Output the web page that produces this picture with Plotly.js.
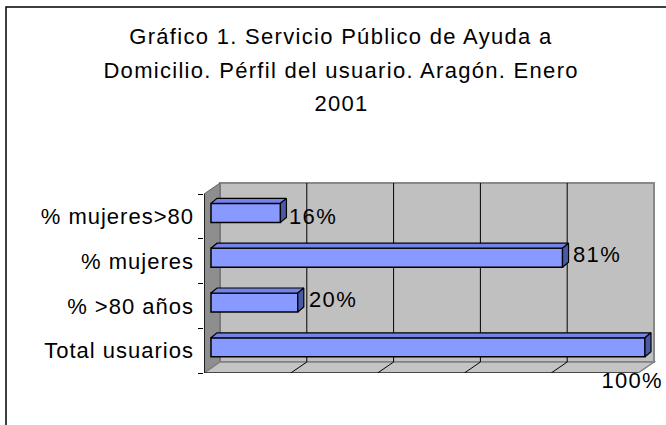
<!DOCTYPE html>
<html>
<head>
<meta charset="utf-8">
<script src="https://cdn.plot.ly/plotly-3.0.1.min.js"></script>
<style>
  html, body { margin: 0; padding: 0; background: #ffffff; }
  #chart { width: 666px; height: 425px; }
  #chart .ytick text, #chart .yaxislayer-above text { letter-spacing: 1px; }
  #chart .annotation text { letter-spacing: 1.3px; }
</style>
</head>
<body>
<div id="chart"></div>
<script>
// ---- data ----
const categories = ['Total usuarios', '% >80 años', '% mujeres', '% mujeres>80'];
const values = [1.00, 0.20, 0.81, 0.16];
const valueLabels = ['100%', '20%', '81%', '16%'];
const titleLines = ['Gráfico 1. Servicio Público de Ayuda a',
                    'Domicilio. Pérfil del usuario. Aragón. Enero',
                    '2001'];
const gridValues = [0.2, 0.4, 0.6, 0.8];

// ---- geometry (pixels) ----
const W = 666, H = 425;
const ML = 204, MR = 10, MT = 182, MB = 52;
const X0 = 211, SX = 434;      // bar plane: pixel of value 0, pixels per 1.0
const Y0 = 347.3, SY = 44.8;   // bar plane: pixel of first category centre, pixels per category
const X = px => (px - X0) / SX;
const Y = py => (Y0 - py) / SY;
const FX = 204, FB = 373, FT = 194, BAND = 44.75; // front plane
const DX = 16, DY = -11;                         // depth offset to back wall
const barHalf = 9.5 / SY, bdx = 6 / SX, bdy = 5 / SY;
const labelDx = [-41, 13, 12, 11];
const labelDy = [-33, 3, 3, -4];
const titleY = [37, 70.5, 104];
const titleX = 341;
const paperX = px => (px - ML) / (W - ML - MR);
const paperY = py => (H - MB - py) / (H - MT - MB);

const FONT = {family: 'Liberation Sans, Arial, sans-serif', size: 22, color: '#000000'};
const BAR_FRONT = '#8899FF', BAR_TOP = '#7383E6', BAR_SIDE = '#4A5AA6';

const path = pts => 'M' + pts.map(p => X(p[0]) + ',' + Y(p[1])).join(' L') + ' Z';
const line = (x0, y0, x1, y1, color, width) => ({
  type: 'line', xref: 'x', yref: 'y', layer: 'below',
  x0: X(x0), y0: Y(y0), x1: X(x1), y1: Y(y1),
  line: {color: color, width: width}
});

const shapes = [];
// chart border
shapes.push({type: 'rect', xref: 'paper', yref: 'paper', layer: 'below',
  x0: paperX(6), y0: paperY(7), x1: paperX(680), y1: paperY(440),
  line: {color: '#000000', width: 1.5}, fillcolor: 'rgba(0,0,0,0)'});
// back wall
shapes.push({type: 'path', xref: 'x', yref: 'y', layer: 'below',
  path: path([[FX + DX, FT + DY], [FX + DX + SX, FT + DY], [FX + DX + SX, FB + DY], [FX + DX, FB + DY]]),
  fillcolor: '#C0C0C0', line: {color: '#888888', width: 2}});
// left wall
shapes.push({type: 'path', xref: 'x', yref: 'y', layer: 'below',
  path: path([[FX, FT], [FX + DX, FT + DY], [FX + DX, FB + DY], [FX, FB]]),
  fillcolor: '#8E8E8E', line: {color: '#666666', width: 1}});
// floor
shapes.push({type: 'path', xref: 'x', yref: 'y', layer: 'below',
  path: path([[FX, FB], [FX + DX, FB + DY], [FX + DX + SX, FB + DY], [FX + SX, FB]]),
  fillcolor: '#C4C4C4', line: {color: '#808080', width: 1.5}});
// gridlines on back wall and floor
gridValues.forEach(v => {
  const bx = FX + DX + SX * v;
  shapes.push(line(bx, FT + DY, bx, FB + DY, '#000000', 1));
  shapes.push(line(bx, FB + DY, FX + SX * v, FB, '#000000', 1));
});
// front edges (axis lines)
shapes.push(line(FX, FT, FX, FB, '#000000', 1.5));
shapes.push(line(FX, FB, FX + SX, FB, '#000000', 1));

// 3D faces of bars built from data
const topX = [], topY = [], sideX = [], sideY = [];
values.forEach((v, i) => {
  topX.push(0, v, v + bdx, bdx, 0, null);
  topY.push(i + barHalf, i + barHalf, i + barHalf + bdy, i + barHalf + bdy, i + barHalf, null);
  sideX.push(v, v + bdx, v + bdx, v, v, null);
  sideY.push(i - barHalf, i - barHalf + bdy, i + barHalf + bdy, i + barHalf, i - barHalf, null);
});
const idx = categories.map((c, i) => i);

const traces = [
  {type: 'bar', orientation: 'h', x: values, y: idx, width: 2 * barHalf,
   marker: {color: BAR_FRONT, line: {color: '#000000', width: 1.5}},
   hoverinfo: 'skip', showlegend: false},
  {type: 'scatter', mode: 'lines', x: topX, y: topY, fill: 'toself', fillcolor: BAR_TOP,
   line: {color: '#000000', width: 1.2}, hoverinfo: 'skip', showlegend: false},
  {type: 'scatter', mode: 'lines', x: sideX, y: sideY, fill: 'toself', fillcolor: BAR_SIDE,
   line: {color: '#000000', width: 1.2}, hoverinfo: 'skip', showlegend: false}
];

const annotations = [];
values.forEach((v, i) => {
  annotations.push({xref: 'x', yref: 'y', x: v, y: i, text: valueLabels[i],
    xanchor: 'left', yanchor: 'middle', xshift: labelDx[i], yshift: labelDy[i],
    showarrow: false, font: FONT, borderpad: 0, borderwidth: 0});
});
titleLines.forEach((t, k) => {
  annotations.push({xref: 'paper', yref: 'paper', x: paperX(titleX), y: paperY(titleY[k]),
    text: t, xanchor: 'center', yanchor: 'middle', showarrow: false, font: FONT,
    borderpad: 0, borderwidth: 0});
});

const tickVals = categories.map((c, i) => Y(FB - BAND * (i + 0.5)));
const minorVals = [0, 1, 2, 3, 4].map(k => Y(FB - BAND * k));

const layout = {
  width: W, height: H,
  margin: {l: ML, r: MR, t: MT, b: MB, pad: 0},
  paper_bgcolor: '#ffffff', plot_bgcolor: 'rgba(0,0,0,0)',
  showlegend: false,
  font: FONT,
  xaxis: {range: [X(ML), X(W - MR)], showgrid: false, zeroline: false,
          showticklabels: false, ticks: '', showline: false, fixedrange: true},
  yaxis: {range: [Y(H - MB), Y(MT)], showgrid: false, zeroline: false, showline: false,
          tickmode: 'array', tickvals: tickVals, ticktext: categories, ticks: '',
          ticklabelstandoff: 9, tickfont: FONT, fixedrange: true,
          minor: {tickmode: 'array', tickvals: minorVals, ticks: 'outside', ticklen: 5,
                  tickcolor: '#000000', tickwidth: 1, showgrid: false}},
  shapes: shapes,
  annotations: annotations
};

Plotly.newPlot('chart', traces, layout, {displayModeBar: false, staticPlot: true});
</script>
</body>
</html>
